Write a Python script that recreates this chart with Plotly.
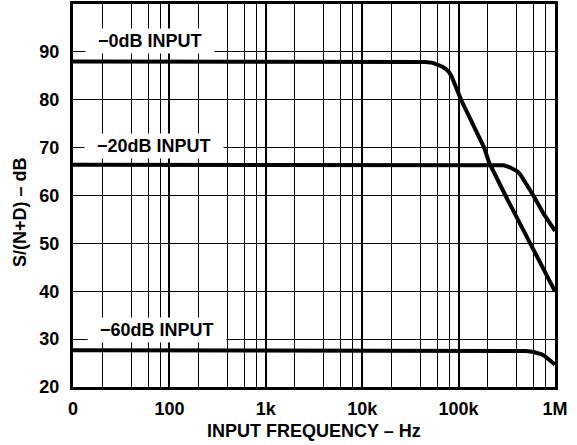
import math
import plotly.graph_objects as go

# ---- data ----
freq_0db = [10, 20000, 35000, 45000, 54000, 62000, 68000, 74000, 80000, 85000, 90000, 95000,
            101000, 106000, 184000, 207000, 306000, 548000, 1000000]
snd_0db = [88, 88, 88, 87.9, 87.7, 87.3, 86.9, 86.4, 85.7, 84.8, 83.6, 82.4,
           81, 80, 70, 66.9, 60, 50, 40]

freq_20db = [10, 200000, 260000, 295000, 340000, 374000, 410000, 440000, 470000, 496000,
             596000, 767000, 1000000]
snd_20db = [66.4, 66.4, 66.4, 66.3, 65.9, 65.5, 65.0, 64.3, 63.5, 62.6,
            60, 56.1, 52.6]

freq_60db = [10, 300000, 400000, 500000, 600000, 680000, 730000, 790000, 850000, 920000, 1000000]
snd_60db = [27.7, 27.7, 27.6, 27.5, 27.3, 27.1, 26.8, 26.4, 25.9, 25.3, 24.7]

x_tick_vals = [10, 100, 1000, 10000, 100000, 1000000]
x_tick_text = ["0", "100", "1k", "10k", "100k", "1M"]
y_tick_vals = [20, 30, 40, 50, 60, 70, 80, 90]

labels = ["\u22120dB INPUT", "\u221220dB INPUT", "\u221260dB INPUT"]
label_x = [63, 70, 75]
label_y = [92.35, 70.3, 31.9]

x_title = "INPUT FREQUENCY \u2013 Hz"
y_title = "S/(N+D) \u2013 dB"

minor_vals = [m * 10 ** d for d in range(1, 6) for m in (2, 4, 6, 8)]

FONT = "Liberation Sans, Arial, Helvetica, sans-serif"
fnt = dict(family=FONT, size=18, color="black", weight="bold")

fig = go.Figure()
for fx, fy in [(freq_0db, snd_0db), (freq_20db, snd_20db), (freq_60db, snd_60db)]:
    fig.add_trace(go.Scatter(
        x=fx, y=fy, mode="lines",
        line=dict(color="black", width=4),
        showlegend=False, hoverinfo="skip",
    ))

for t, lx, ly in zip(labels, label_x, label_y):
    fig.add_annotation(
        x=math.log10(lx), y=ly, xref="x", yref="y",
        text="\u00a0\u00a0" + t.replace(" ", "\u00a0") + "\u00a0\u00a0",
        showarrow=False, bgcolor="white", borderpad=2, font=fnt,
    )

fig.add_annotation(x=0.5, y=-0.115, xref="paper", yref="paper", text=x_title,
                   showarrow=False, xanchor="center", yanchor="middle", font=fnt)
fig.add_annotation(x=-0.11, y=0.457, xref="paper", yref="paper", text=y_title,
                   showarrow=False, xanchor="center", yanchor="middle", textangle=-90, font=fnt)

fig.update_xaxes(
    type="log", range=[1, 6], automargin=False,
    tickvals=x_tick_vals, ticktext=x_tick_text,
    showgrid=True, gridcolor="black", gridwidth=1.6,
    minor=dict(tickvals=minor_vals, showgrid=True, gridcolor="black", gridwidth=1.2, ticks=""),
    showline=True, linecolor="black", linewidth=3, mirror=True,
    ticks="", ticklabelstandoff=3, tickfont=fnt,
    zeroline=False,
)
fig.update_yaxes(
    range=[20, 100], tickvals=y_tick_vals, automargin=False,
    showgrid=True, gridcolor="black", gridwidth=1.3,
    showline=True, linecolor="black", linewidth=3, mirror=True,
    ticks="", ticklabelstandoff=7, tickfont=fnt,
    zeroline=False,
)

fig.update_layout(
    width=577, height=445,
    margin=dict(l=73, r=22, t=4, b=58),
    paper_bgcolor="white", plot_bgcolor="white",
)

fig.write_html("out.html", config={"displayModeBar": False},
               post_script="document.body.style.margin='0';")
